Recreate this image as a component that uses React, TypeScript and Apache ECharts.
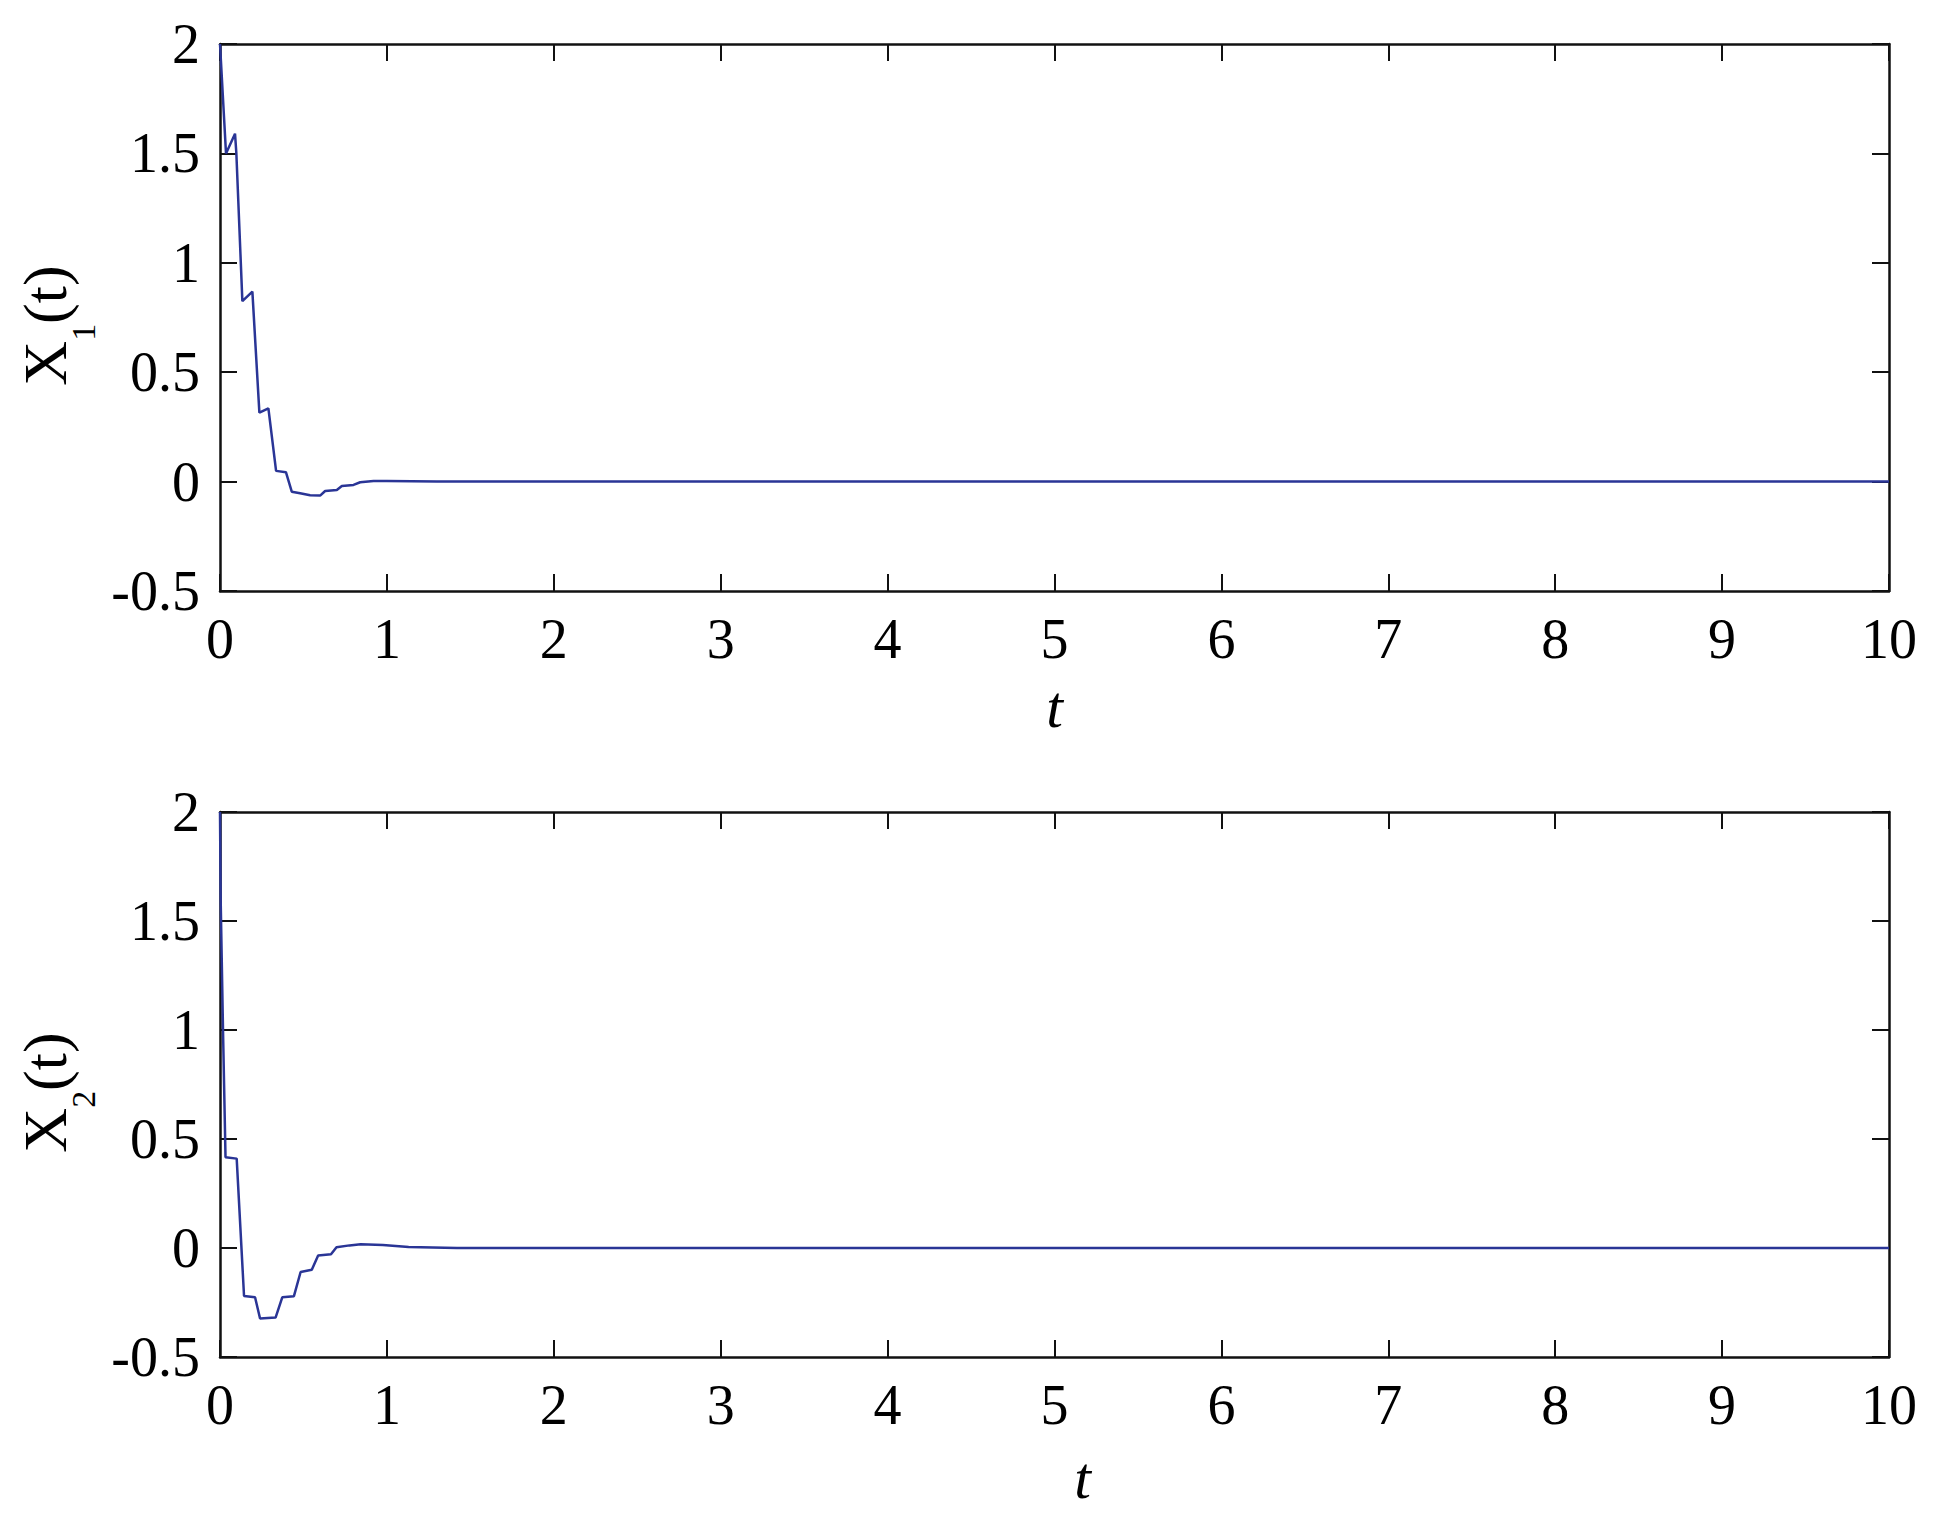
import React, { useEffect, useRef } from "react";
import * as echarts from "echarts";

// X1(t) trajectory samples
const t1: number[] = [0, 0.036, 0.09, 0.098, 0.134, 0.194, 0.236, 0.29, 0.336, 0.395, 0.43, 0.48, 0.54, 0.6, 0.63, 0.7, 0.73, 0.8, 0.84, 0.92, 1.0, 1.3, 10];
const x1: number[] = [2.0, 1.5, 1.59, 1.5, 0.825, 0.868, 0.315, 0.335, 0.049, 0.043, -0.046, -0.053, -0.062, -0.064, -0.043, -0.038, -0.02, -0.015, -0.003, 0.003, 0.003, 0.0, 0.0];

// X2(t) trajectory samples
const t2: number[] = [0, 0.004, 0.018, 0.033, 0.1, 0.144, 0.21, 0.24, 0.333, 0.373, 0.443, 0.483, 0.55, 0.588, 0.665, 0.698, 0.776, 0.843, 0.976, 1.13, 1.42, 10];
const x2: number[] = [2.0, 1.6, 1.0, 0.416, 0.41, -0.22, -0.226, -0.323, -0.319, -0.226, -0.221, -0.11, -0.1, -0.034, -0.029, 0.003, 0.012, 0.017, 0.014, 0.005, 0.0, 0.0];

const xTicks = { min: 0, max: 10, interval: 1 };
const yTicks = { min: -0.5, max: 2, interval: 0.5 };

const FONT = "Liberation Serif";
const LINE_COLOR = "#2a3596";

export default function App() {
  const ref = useRef<HTMLDivElement>(null);
  useEffect(() => {
    document.body.style.margin = "0";
    document.body.style.overflow = "hidden";
    const chart = echarts.init(ref.current!, null, { renderer: "svg" });

    const axisLine = { show: true, onZero: false, lineStyle: { color: "#111", width: 2.5 } };
    const tick = { show: true, inside: true, length: 17, lineStyle: { color: "#111", width: 2 } };
    const label = { show: true, color: "#000", fontFamily: FONT, fontSize: 56 };

    const xMain = (gridIndex: number, gap: number, pad: number[]) => ({
      type: "value",
      gridIndex,
      ...xTicks,
      position: "bottom",
      axisLine,
      axisTick: tick,
      axisLabel: { ...label, margin: 20 },
      splitLine: { show: false },
      name: "t",
      nameLocation: "middle",
      nameGap: gap,
      nameTextStyle: { fontFamily: FONT, fontSize: 60, fontStyle: "italic", color: "#000", padding: pad },
    });
    const xTop = (gridIndex: number) => ({
      type: "value",
      gridIndex,
      ...xTicks,
      position: "top",
      axisLine,
      axisTick: tick,
      axisLabel: { show: false },
      splitLine: { show: false },
    });
    const yMain = (gridIndex: number, gap: number, sub: string) => ({
      type: "value",
      gridIndex,
      ...yTicks,
      position: "left",
      axisLine,
      axisTick: tick,
      axisLabel: { ...label, margin: 20 },
      splitLine: { show: false },
      name: "{x|X}{sub|" + sub + "}{e|(t)}",
      nameLocation: "middle",
      nameRotate: 90,
      nameGap: gap,
      nameTextStyle: {
        color: "#000",
        fontFamily: FONT,
        rich: {
          x: { fontFamily: FONT, fontSize: 62, color: "#000", verticalAlign: "top" },
          e: { fontFamily: FONT, fontSize: 62, color: "#000", verticalAlign: "top", padding: [0, 16, 0, 0] },
          sub: { fontFamily: FONT, fontSize: 34, color: "#000", verticalAlign: "top", padding: [52, 0, 0, 0] },
        },
      },
    });
    const yRight = (gridIndex: number) => ({
      type: "value",
      gridIndex,
      ...yTicks,
      position: "right",
      axisLine,
      axisTick: tick,
      axisLabel: { show: false },
      splitLine: { show: false },
    });

    chart.setOption({
      animation: false,
      backgroundColor: "#fff",
      grid: [
        { left: 220, top: 44, width: 1669, height: 547 },
        { left: 220, top: 812, width: 1669, height: 545 },
      ],
      xAxis: [xMain(0, 86, [0, 0, 0, 0]), xTop(0), xMain(1, 91, [0, 0, 0, 56]), xTop(1)],
      yAxis: [yMain(0, 115, "1"), yRight(0), yMain(1, 102, "2"), yRight(1)],
      series: [
        {
          type: "line",
          xAxisIndex: 0,
          yAxisIndex: 0,
          data: t1.map((t, i) => [t, x1[i]]),
          showSymbol: false,
          lineStyle: { color: LINE_COLOR, width: 2.5 },
        },
        {
          type: "line",
          xAxisIndex: 2,
          yAxisIndex: 2,
          data: t2.map((t, i) => [t, x2[i]]),
          showSymbol: false,
          lineStyle: { color: LINE_COLOR, width: 2.5 },
        },
      ],
    });
    return () => chart.dispose();
  }, []);
  return <div ref={ref} style={{ width: 1955, height: 1538 }} />;
}
